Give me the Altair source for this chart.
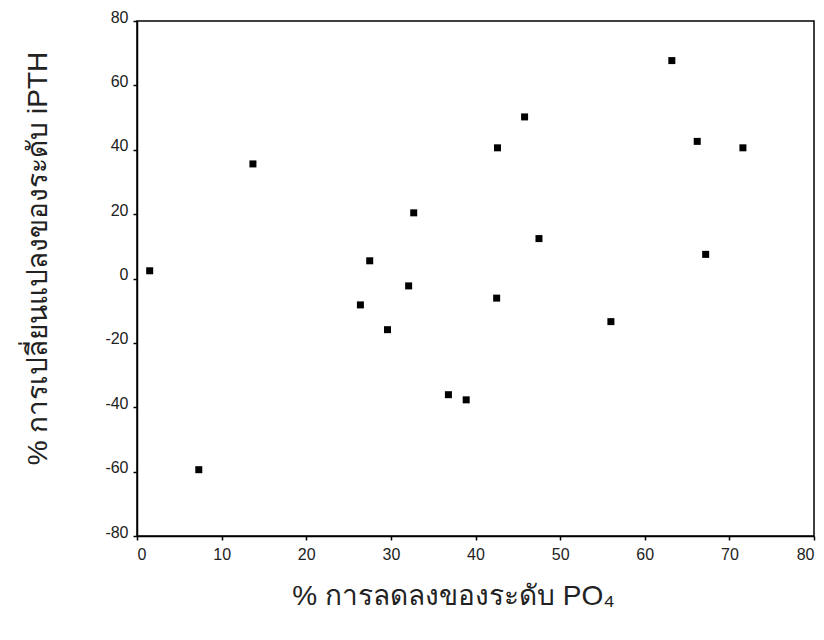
import altair as alt
import pandas as pd

po4_drop = [1.5, 7.3, 13.7, 26.4, 27.5, 29.6, 32.1, 32.7, 36.8, 38.9,
            42.5, 42.6, 45.8, 47.5, 56.0, 63.2, 66.2, 67.2, 71.6]
ipth_change = [2.4, -59.4, 35.6, -8.2, 5.5, -15.9, -2.3, 20.4, -36.1, -37.7,
               -6.1, 40.6, 50.2, 12.4, -13.4, 67.7, 42.6, 7.5, 40.6]
x_ticks = [0, 10, 20, 30, 40, 50, 60, 70, 80]
y_ticks = [-80, -60, -40, -20, 0, 20, 40, 60, 80]

df = pd.DataFrame({"x": po4_drop, "y": ipth_change})

chart = alt.Chart(df).mark_square(size=49, color="black", opacity=1).encode(
    x=alt.X("x:Q", scale=alt.Scale(domain=[0, 80], nice=False),
            axis=alt.Axis(values=x_ticks, title="% การลดลงของระดับ PO₄",
                          titleX=316, titleY=60, titleFontSize=28,
                          titleBaseline="middle", titleAlign="center",
                          labelPadding=6, labelExpr="datum.value + ''")),
    y=alt.Y("y:Q", scale=alt.Scale(domain=[-80, 80], nice=False),
            axis=alt.Axis(values=y_ticks, title="% การเปลี่ยนแปลงของระดับ iPTH",
                          titleX=-99, titleY=237, titleFontSize=28,
                          titleBaseline="middle", titleAlign="center",
                          labelPadding=5, labelOffset=-4,
                          labelExpr="datum.value + ''")),
).properties(
    width=677, height=515,
    autosize=alt.AutoSizeParams(type="none"),
    padding={"left": 129, "top": 13, "right": 2, "bottom": 94},
).configure_view(
    stroke="black", strokeWidth=1.5
).configure_axis(
    grid=False, domainColor="black", domainWidth=1.5,
    tickColor="black", tickSize=4, tickWidth=1.5,
    labelFont="Liberation Sans", labelFontSize=16, labelColor="#222222",
    titleFont="Liberation Sans", titleFontWeight="normal", titleColor="#222222",
)

chart.save("out.html", embed_options={"renderer": "svg", "actions": False})
